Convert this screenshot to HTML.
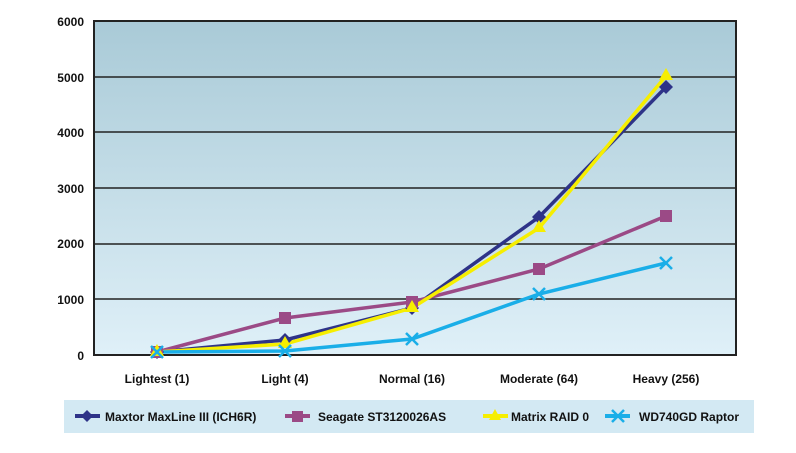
<!DOCTYPE html>
<html><head><style>body{margin:0;background:#fff}</style></head><body>
<svg width="796" height="448" xmlns="http://www.w3.org/2000/svg" font-family="Liberation Sans, sans-serif" font-weight="bold">
<defs><linearGradient id="g" x1="0" y1="0" x2="0" y2="1"><stop offset="0" stop-color="#a9cad7"/><stop offset="1" stop-color="#dff0f8"/></linearGradient></defs>
<rect x="94" y="21" width="642" height="334" fill="url(#g)" stroke="#222" stroke-width="2"/>
<g stroke="#222" stroke-width="1.5">
<line x1="94" y1="77" x2="736" y2="77"/><line x1="94" y1="132" x2="736" y2="132"/><line x1="94" y1="188" x2="736" y2="188"/><line x1="94" y1="244" x2="736" y2="244"/><line x1="94" y1="299" x2="736" y2="299"/></g>
<g font-size="12" text-anchor="end" fill="#111">
<text x="84" y="26">6000</text><text x="84" y="82">5000</text><text x="84" y="137">4000</text><text x="84" y="193">3000</text><text x="84" y="248">2000</text><text x="84" y="304">1000</text><text x="84" y="360">0</text></g>
<g font-size="12" text-anchor="middle" fill="#111">
<text x="157" y="383">Lightest (1)</text><text x="285" y="383">Light (4)</text><text x="412" y="383">Normal (16)</text><text x="539" y="383">Moderate (64)</text><text x="666" y="383">Heavy (256)</text></g>
<polyline fill="none" stroke="#2e3388" stroke-width="3.5" points="157,352 285,340 412,308 539,217 666,87"/>
<polyline fill="none" stroke="#9b4a86" stroke-width="3.5" points="157,352 285,318 412,302 539,269 666,216"/>
<polyline fill="none" stroke="#f6ee00" stroke-width="3.5" points="157,352 285,344 412,308 539,228 666,76"/>
<polyline fill="none" stroke="#1aaee8" stroke-width="3.5" points="157,352 285,351 412,339 539,294 666,263"/>
<g fill="#2e3388"><path d="M157 345l7 7-7 7-7-7z"/><path d="M285 333l7 7-7 7-7-7z"/><path d="M412 301l7 7-7 7-7-7z"/><path d="M539 210l7 7-7 7-7-7z"/><path d="M666 80l7 7-7 7-7-7z"/></g>
<g fill="#9b4a86"><rect x="151" y="346" width="12" height="12"/><rect x="279" y="312" width="12" height="12"/><rect x="406" y="296" width="12" height="12"/><rect x="533" y="263" width="12" height="12"/><rect x="660" y="210" width="12" height="12"/></g>
<g fill="#f6ee00"><path d="M157 344l7 12h-14z"/><path d="M285 336l7 12h-14z"/><path d="M412 300l7 12h-14z"/><path d="M539 220l7 12h-14z"/><path d="M666 68l7 12h-14z"/></g>
<g stroke="#1aaee8" stroke-width="2.5"><path d="M151 346l12 12M163 346l-12 12"/><path d="M279 345l12 12M291 345l-12 12"/><path d="M406 333l12 12M418 333l-12 12"/><path d="M533 288l12 12M545 288l-12 12"/><path d="M660 257l12 12M672 257l-12 12"/></g>
<rect x="64" y="400" width="690" height="33" fill="#d3e9f3"/>
<g font-size="12" fill="#111">
<line x1="75" y1="416" x2="100" y2="416" stroke="#2e3388" stroke-width="4"/><path d="M87 410l6 6-6 6-6-6z" fill="#2e3388"/><text x="105" y="421">Maxtor MaxLine III (ICH6R)</text>
<line x1="285" y1="416" x2="310" y2="416" stroke="#9b4a86" stroke-width="4"/><rect x="292" y="411" width="11" height="11" fill="#9b4a86"/><text x="318" y="421">Seagate ST3120026AS</text>
<line x1="483" y1="416" x2="508" y2="416" stroke="#f6ee00" stroke-width="4"/><path d="M495 409l6 11h-12z" fill="#f6ee00"/><text x="511" y="421">Matrix RAID 0</text>
<line x1="605" y1="416" x2="630" y2="416" stroke="#1aaee8" stroke-width="4"/><path d="M612 410l12 12M624 410l-12 12" stroke="#1aaee8" stroke-width="2.5"/><text x="639" y="421">WD740GD Raptor</text>
</g>
</svg>
</body></html>
